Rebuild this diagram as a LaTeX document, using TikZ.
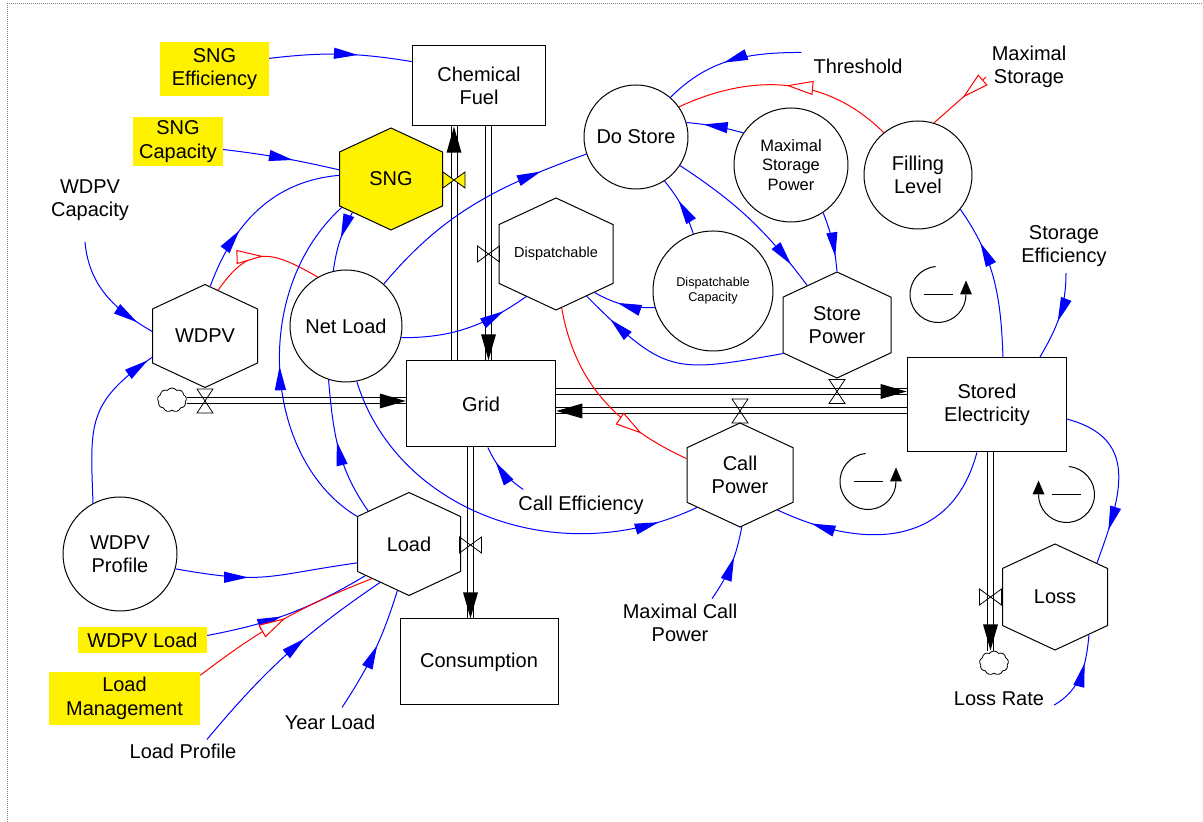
\documentclass[tikz,border=0pt]{standalone}
\usepackage{fontspec}
\setmainfont{Liberation Sans}
\usetikzlibrary{shapes.symbols,arrows.meta,decorations.markings}

\tikzset{
  stock/.style 2 args={draw, line width=1pt, minimum width=#1, minimum height=#2, inner sep=0pt, align=center},
  hexa/.style 2 args={signal, signal to=north and south, signal pointer angle=130, draw, line width=1pt,
    text width=#1pt, minimum width=#1, minimum height=#2, inner sep=0pt, align=center},
  aux/.style={circle, draw, line width=1pt, minimum size=#1, inner sep=0pt, align=center},
  tag/.style 2 args={fill=yellow, minimum width=#1, minimum height=#2, inner sep=0pt, align=center},
  lbl/.style={align=center, inner sep=2pt},
  link/.style={blue, line width=1pt, postaction={decorate},
    decoration={markings, mark=at position #1 with {\arrow{Triangle[length=24pt,width=11pt]}}}},
  link/.default=.8,
  neglink/.style={red, line width=1pt, postaction={decorate},
    decoration={markings, mark=at position #1 with {\arrow{Triangle[open,length=27pt,width=14pt,fill=white]}}}},
  neglink/.default=.5,
  flow/.style={line width=1pt, double distance=5pt, postaction={decorate},
    decoration={markings, mark=at position .999 with {\fill[black] (0,0) -- (-26pt,7.5pt) -- (-26pt,-7.5pt) -- cycle;}}},
  puff/.style={cloud, cloud puffs=9, cloud puff arc=110, aspect=1.2, draw, line width=.8pt,
    minimum width=29pt, minimum height=24pt, inner sep=0pt},
  pics/hvalve/.style={code={\draw[line width=.8pt, fill=#1] (-11,-8) -- (11,8) -- (11,-8) -- (-11,8) -- cycle;}},
  pics/hvalve/.default=none,
  pics/vvalve/.style={code={\draw[line width=.8pt] (-8,-12) -- (8,12) -- (-8,12) -- (8,-12) -- cycle;}},
  loopc/.style={line width=1pt},
}

\begin{document}
\begin{tikzpicture}[x=1pt, y=1pt, font=\fontsize{20}{23.5}\selectfont]
\useasboundingbox (0,0) rectangle (1203,822);
% frame
\draw[gray, densely dotted, line width=1pt] (7,0) -- (7,818) -- (1203,818);

% stocks
\node[stock={133}{80}] (chem) at (479,736) {Chemical\\Fuel};
\node[stock={149}{86}] (grid) at (481,418) {Grid};
\node[stock={159}{94}] (stored) at (987,417) {Stored\\Electricity};
\node[stock={158}{86}] (cons) at (479,160) {Consumption};

% rates
\node[hexa={103}{102}, fill=yellow] (sng) at (391,643) {SNG};
\node[hexa={105}{103}] (wdpv) at (205,486) {WDPV};
\node[hexa={114}{112}, font=\fontsize{14.5}{17}\selectfont] (disp) at (556,568) {Dispatchable};
\node[hexa={108}{106}] (spow) at (837,497) {Store\\Power};
\node[hexa={106}{104}] (cpow) at (740,347) {Call\\Power};
\node[hexa={103}{103}] (load) at (409,278) {Load};
\node[hexa={105}{106}] (loss) at (1055,225) {Loss};

% auxiliaries
\node[aux=104] (dostore) at (636,685) {Do Store};
\node[aux=114, font=\fontsize{16.5}{19.3}\selectfont] (maxsp) at (791,657) {Maximal\\Storage\\Power};
\node[aux=108] (level) at (918,647) {Filling\\Level};
\node[aux=120, font=\fontsize{12.7}{15.3}\selectfont] (dcap) at (713,531) {Dispatchable\\Capacity};
\node[aux=112] (netload) at (346,496) {Net Load};
\node[aux=114] (wprof) at (120,268) {WDPV\\Profile};

% constants
\node[tag={109}{54}] (sngeff) at (214.5,753) {SNG\\Efficiency};
\node[tag={90}{49}] (sngcap) at (178,680.5) {SNG\\Capacity};
\node[tag={129}{26}] (wdpvload) at (142.5,182) {WDPV Load};
\node[tag={151}{53}] (loadman) at (124.5,123.5) {Load\\Management};
\node[lbl] (wdpvcap) at (90,622) {WDPV\\Capacity};
\node[lbl] (thresh) at (858,756) {Threshold};
\node[lbl] (maxstor) at (1029,755) {Maximal\\Storage};
\node[lbl] (storeff) at (1064,576) {Storage\\Efficiency};
\node[lbl] (calleff) at (581,317) {Call Efficiency};
\node[lbl] (maxcall) at (680,199) {Maximal Call\\Power};
\node[lbl] (lossrate) at (999,123) {Loss Rate};
\node[lbl] (yearload) at (330,100) {Year Load};
\node[lbl] (loadprof) at (183,71) {Load Profile};

% clouds and valves
\node[puff] (cl1) at (172,422) {};
\node[puff] (cl2) at (994,159) {};
\coordinate (wv) at (205,421);
\coordinate (sv) at (454,642);
\coordinate (dv) at (488.5,568);
\coordinate (pv) at (837,430.5);
\coordinate (cv) at (740,411);
\coordinate (lv) at (470.5,277);
\coordinate (xv) at (990.5,225);

% pipes
\draw[flow] (cl1.east |- wv) -- (grid.west |- wv);
\draw[flow] (grid.north -| sv) -- (chem.south -| sv);
\draw[flow] (chem.south -| dv) -- (grid.north -| dv);
\draw[flow] (grid.east |- pv) -- (stored.west |- pv);
\draw[flow] (stored.west |- cv) -- (grid.east |- cv);
\draw[flow] (grid.south -| lv) -- (cons.north -| lv);
\draw[flow] (stored.south -| xv) -- (cl2.north -| xv);
\pic at (wv) {vvalve};
\pic at (sv) {hvalve=yellow};
\pic at (dv) {hvalve};
\pic at (pv) {vvalve};
\pic at (cv) {vvalve};
\pic at (lv) {hvalve};
\pic at (xv) {hvalve};

% links
\draw[link=.62] (sngeff.11) to[bend left=8] (chem.160);
\draw[link=.6] (sngcap.-10) to[bend left=3] (sng.170);
\draw[link=.35] (wdpv.84) to[out=70,in=185] (sng.176);
\draw[link=.85] ([xshift=-5,yshift=-19]wdpvcap.south) to[out=-85,in=150] (wdpv.175);
\draw[link=.97] (wprof.118) to[out=92,in=215,looseness=1.3] (wdpv.202);
\draw[neglink=.5] (wdpv.74) to[out=55,in=150,looseness=1.4] (netload.120);
\draw[link=.45] (sng.221) to[bend right=10] (netload.103.5);
\draw[link=.5] (load.152) .. controls +(-92,55) and +(-93,-85) .. (sng.210);
\draw[link=.55] (load.141) to[out=125,in=275] (netload.252);
\draw[link=.9] (netload.281) .. controls +(40,-130) and +(-137,-65) .. (cpow.217);
\draw[link=.8] (netload.48) to[out=50,in=200] (dostore.199);
\draw[link=.8] (netload.-12) to[out=0,in=215] (disp.235);
\draw[link=.4] (wprof.-15) to[out=-10,in=188,looseness=1.3] (load.200);
\draw[link=.45] (wdpvload.4) to[bend right=10] (load.216);
\draw[neglink=.52] (loadman.17) to[bend left=8] (load.223);
\draw[link=.6] ([xshift=24,yshift=2]loadprof.north) to[bend left=8] (load.233);
\draw[link=.55] ([xshift=12,yshift=5]yearload.north) to[bend right=8] (load.256);
\draw[link=.7] ([xshift=7,yshift=4]calleff.north west) to[bend left=15] (grid.279);
\draw[link=.6] ([xshift=32,yshift=3]maxcall.north) to[bend right=12] (cpow.272);
\draw[neglink=.75] (disp.276) to[out=-80,in=155] (cpow.163);
\draw[link=.6] (dcap.196) to[bend left=15] (disp.-45);
\draw[link=.85] (spow.208) to[out=190,in=-45,looseness=1.4] (disp.306);
\draw[link=.6] (dcap.109) to[bend right=10] (dostore.303);
\draw[link=.85] (dostore.327) to[bend left=10] (spow.127.6);
\draw[link=.7] (maxsp.146) to[bend right=5] (dostore.16);
\draw[link=.75] (maxsp.304) to[bend left=8] (spow.north);
\draw[link=.55] ([xshift=-10,yshift=4]thresh.north west) to[out=180,in=45] (dostore.49);
\draw[neglink=.5] (level.129) to[out=135,in=25] (dostore.35.5);
\draw[neglink=.45] ([xshift=-3.5,yshift=-10]maxstor.west) -- (level.73);
\draw[link=.75] ([xshift=16]stored.north) to[out=92,in=-55] (level.321);
\draw[link=.55] ([xshift=2,yshift=-4]storeff.south) to[out=-90,in=60] (stored.42);
\draw[link=.85] (stored.258) to[out=-105,in=-25,looseness=1.2] (cpow.-43);
\draw[link=.8] (stored.-10) to[out=-15,in=70,looseness=1.3] (loss.39);
\draw[link=.65] ([xshift=8,yshift=-6]lossrate.east) to[out=30,in=-95] (loss.312);

% loop markers
\coordinate (lp1) at (938,527.5);
\coordinate (lp2) at (868,340.5);
\coordinate (lp3) at (1066.5,327.5);
\foreach \c in {lp1,lp2}{
  \draw[loopc] (\c) ++(95:28) arc[start angle=95, end angle=360, radius=28];
  \fill (\c) ++(22,0) -- ++(12,0) -- ++(-6,14) -- cycle;
  \draw[loopc] (\c) ++(-14.5,0) -- ++(29,0);
}
\draw[loopc] (lp3) ++(85:28) arc[start angle=85, end angle=-180, radius=28];
\fill (lp3) ++(-34,0) -- ++(12,0) -- ++(-6,14) -- cycle;
\draw[loopc] (lp3) ++(-14.5,0) -- ++(29,0);
\end{tikzpicture}
\end{document}
